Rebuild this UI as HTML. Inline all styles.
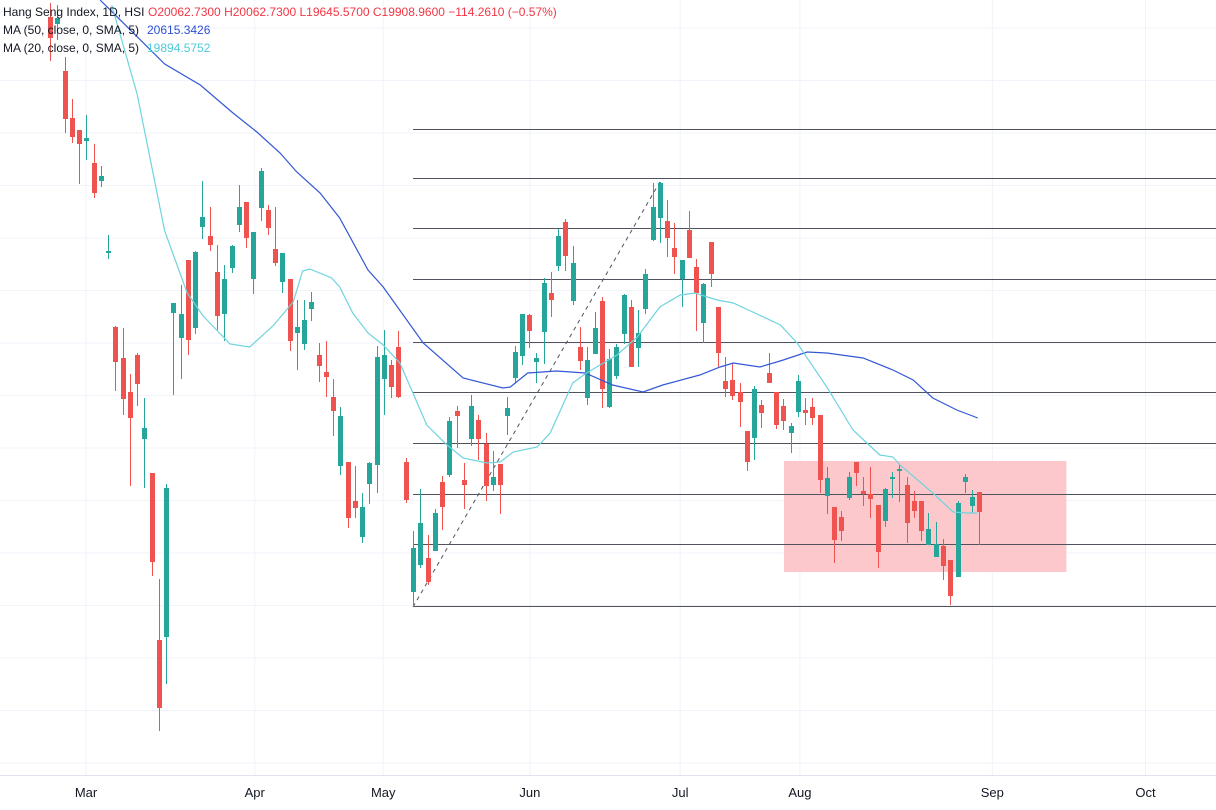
<!DOCTYPE html>
<html><head><meta charset="utf-8"><style>
html,body{margin:0;padding:0;background:#fff;}
svg{display:block;font-family:"Liberation Sans",sans-serif;}
</style></head><body>
<svg id="chart" width="1216" height="810" viewBox="0 0 1216 810" xmlns="http://www.w3.org/2000/svg">
<g id="grid"></g>
<g id="box"></g>
<g id="fib"></g>
<g id="candles"></g>
<g id="mas"></g>
<g id="xaxis"></g>
<g font-size="12">
<text x="3" y="16" fill="#131722">Hang Seng Index, 1D, HSI</text>
<text x="148" y="16" fill="#f23645">O20062.7300  H20062.7300  L19645.5700  C19908.9600  −114.2610 (−0.57%)</text>
<text x="3" y="34" fill="#131722">MA (50, close, 0, SMA, 5)</text>
<text x="147" y="34" fill="#2d50d8">20615.3426</text>
<text x="3" y="52" fill="#131722">MA (20, close, 0, SMA, 5)</text>
<text x="147" y="52" fill="#4fc9d9">19894.5752</text>
</g>
</svg>
<script>
const opens=[24830,24760,24290,23820,23700,23590,23370,23190,22470,21730,21420,21080,21450,20610,20270,18600,18630,21870,21620,22400,21720,22730,22640,22280,21860,22320,22750,22980,22210,22920,22900,22510,22180,22210,21670,21560,21910,21450,21280,21030,20340,20380,19990,19630,20160,20350,21210,21350,21530,20380,19080,19350,19420,19490,20180,20250,20890,20200,20610,20800,20560,20150,20360,20840,21220,21440,21850,21380,21680,22070,22340,22780,21990,21530,21020,21460,21990,20930,21240,21660,21930,21520,21910,22600,22820,22790,22520,22210,22700,22330,21770,22580,21930,21190,21200,21080,20690,20620,20950,21270,21080,20940,20670,20880,20900,20930,20850,20040,19930,19830,20020,20380,20090,20060,19950,19790,20210,20290,20150,19990,19990,19550,19430,19540,19400,19230,20180,19940,20080];
const highs=[24970,24950,24430,24010,23700,23850,23560,23340,22650,21740,21720,21260,21470,21020,20270,19210,20160,21970,22150,22400,22490,23190,22930,22550,22350,22550,23150,22980,22680,23320,22950,22930,22470,22210,22000,22000,22080,21570,21590,21210,20930,20380,20340,20070,20380,21540,21700,21400,21690,20420,19690,20110,19650,19910,20240,20830,20940,20370,21050,20850,20670,20490,20360,21030,21540,21860,21860,21470,22220,22280,22710,22810,22540,21730,21530,21880,22030,21510,21560,22060,22000,21900,22310,23170,23180,23000,22770,22400,22890,22410,22170,22580,21930,21430,21370,21170,20690,21140,21000,21470,21080,21010,20770,21250,21020,21020,20850,20330,19930,19890,20280,20380,20230,20330,19950,20120,20280,20350,20230,20090,19990,19870,19780,19610,19400,19990,20260,20100,20080];
const lows=[24390,24600,23670,23570,23160,23400,23020,23130,22410,21090,20850,20140,20940,20120,19240,17690,18160,21050,21210,21450,21660,22610,22490,21700,21590,22270,22680,22520,22060,22790,22650,22340,22070,21490,21300,21500,21790,21180,21030,20640,20250,19720,19820,19570,19960,20070,20850,21020,21020,19970,18930,19320,19150,19490,19700,20230,20520,19910,20540,20400,19990,20090,19860,20650,21170,21350,21520,21170,21360,21830,22290,22290,21950,21300,20950,21460,20920,20920,21210,21560,21330,21330,21860,22590,22570,22430,22260,21930,22420,21690,21570,22130,21330,21030,21000,20730,20290,20400,20720,21170,20710,20700,20470,20830,20750,20750,20070,19860,19370,19590,20000,20140,19940,19820,19320,19730,20020,19980,19570,19820,19590,19550,19430,19200,18950,19230,20070,19870,19550];
const closes=[24620,24820,23810,23630,23560,23620,23070,23240,22490,21380,21010,20820,21160,20720,19380,17920,20120,21970,21860,21600,22480,22830,22550,21840,22210,22540,22930,22620,22680,23290,22720,22370,22470,21590,21730,21800,21980,21340,21230,20890,20840,19820,19920,19930,20370,21430,21450,21130,21030,20000,19520,19770,19180,19870,19930,20790,20840,20150,20940,20610,20140,20230,20150,20920,21480,21860,21690,21420,22170,22000,22640,22440,22370,21390,21400,21720,21110,21410,21530,22050,21330,21670,22260,22930,23170,22620,22430,22400,22420,22070,22160,22260,21470,21110,21040,20980,20380,21110,20870,21170,20750,20790,20740,21190,20870,20820,20200,20220,19600,19690,20230,20270,20060,20010,19480,20110,20230,20310,19770,19890,19690,19710,19560,19340,19040,19970,20230,20030,19880];
const ma50Idx=[6.9,15.8,20.7,25.2,28.5,31.7,34.0,37.2,39.9,43.8,45.9,51.4,56.9,62.4,63.4,65.8,69.8,73.7,77.5,81.7,84.4,89.5,92.3,94.1,97.8,101.0,104.3,107.0,112.0,116.1,118.9,121.6,124.9,127.8];
const ma50Val=[25000,24360,24150,23870,23680,23470,23280,23070,22820,22300,22130,21570,21220,21120,21130,21270,21290,21270,21150,21080,21150,21250,21330,21370,21330,21400,21480,21470,21420,21300,21200,21020,20900,20820];
const ma20Idx=[8.5,12.0,15.8,18.9,21.1,24.8,27.5,30.7,33.5,34.8,35.8,38.8,39.9,41.7,43.8,45.9,48.2,51.9,54.7,56.9,60.2,62.0,63.8,67.1,68.9,72.0,73.7,75.3,78.1,80.9,84.0,86.8,88.8,91.9,94.1,96.8,100.6,102.9,107.0,110.6,114.3,116.1,117.1,121.6,124.4,126.3,127.7];
const ma20Val=[24950,24060,22690,22070,21840,21560,21530,21740,21980,22290,22310,22220,22130,21870,21670,21550,21370,20750,20550,20420,20370,20380,20480,20530,20670,21170,21260,21330,21450,21630,21930,22050,22070,22000,21970,21880,21750,21570,21130,20700,20450,20430,20350,20070,19880,19870,19870];
const fibLevels=[23710,23220,22720,22210,21580,21080,20570,20060,19560,18940];
const fibStartIdx=50, fibEndIdx=84;
const boxIdx=[101.1,140.0];
const boxPrice=[20390,19280];
const monthLabels=["Mar","Apr","May","Jun","Jul","Aug","Sep","Oct"];
const monthIdx=[4.96,28.2,45.9,66.1,86.8,103.3,129.8,150.9];

const NS="http://www.w3.org/2000/svg";
const xS=i=>50+i*7.26;
const yS=p=>(25000-p)/10;
function mk(tag,attrs,parent){const e=document.createElementNS(NS,tag);for(const k in attrs)e.setAttribute(k,attrs[k]);parent.appendChild(e);return e;}

const grid=document.getElementById('grid');
for(let k=0;k<15;k++){const y=28+k*52.5;
 const l=mk('line',{x1:0,x2:1216,y1:y,y2:y,stroke:'#f0f3fa','stroke-width':1},grid);
 
 }
monthIdx.forEach(m=>{const x=xS(m);
 const l=mk('line',{x1:x,x2:x,y1:0,y2:775,stroke:'#f0f3fa','stroke-width':1},grid);
 
 });

const box=document.getElementById('box');
const r=mk('rect',{x:xS(boxIdx[0]),y:yS(boxPrice[0]),width:xS(boxIdx[1])-xS(boxIdx[0]),height:yS(boxPrice[1])-yS(boxPrice[0]),fill:'#fcc8cb'},box);



const fib=document.getElementById('fib');
fibLevels.forEach(p=>{const y=Math.round(yS(p))+0.5;
 const l=mk('line',{x1:xS(fibStartIdx),x2:1216,y1:y,y2:y,stroke:'#50535e','stroke-width':1},fib);
 
 });
const dl=mk('line',{x1:xS(fibStartIdx),y1:yS(lows[fibStartIdx]),x2:xS(fibEndIdx),y2:yS(highs[fibEndIdx]),stroke:'#50535e','stroke-width':1,'stroke-dasharray':'4,4'},fib);



const cg=document.getElementById('candles');
opens.forEach((o,i)=>{const c=closes[i];const up=c>=o;const col=up?'#26a69a':'#ef5350';const x=Math.round(xS(i));
 const g=mk('g',{},cg);
 
 
 const w=mk('line',{x1:x+0.5,x2:x+0.5,y1:yS(highs[i]),y2:yS(lows[i]),stroke:col,'stroke-width':1},g);
 
 
 const t=yS(Math.max(o,c)),b=yS(Math.min(o,c));
 const rb=mk('rect',{x:x-2,y:t,width:5,height:Math.max(1,b-t),fill:col},g);
 
 });

const mas=document.getElementById('mas');
function line(idx,val,col,name){const d=idx.map((v,k)=>(k?'L':'M')+xS(v).toFixed(1)+' '+yS(val[k]).toFixed(1)).join(' ');
 const p=mk('path',{d:d,fill:'none',stroke:col,'stroke-width':1.2},mas);
 
 }
line(ma50Idx,ma50Val,'#3357d6','ma50-line');
line(ma20Idx,ma20Val,'#6fd3df','ma20-line');

const xa=document.getElementById('xaxis');
const sep=mk('line',{x1:0,x2:1216,y1:775.5,y2:775.5,stroke:'#e0e3eb','stroke-width':1},xa);


monthLabels.forEach((m,k)=>{const t=mk('text',{x:xS(monthIdx[k]),y:797,'text-anchor':'middle','font-size':13,fill:'#131722'},xa);
 t.textContent=m;
 
 });
</script>
</body></html>
